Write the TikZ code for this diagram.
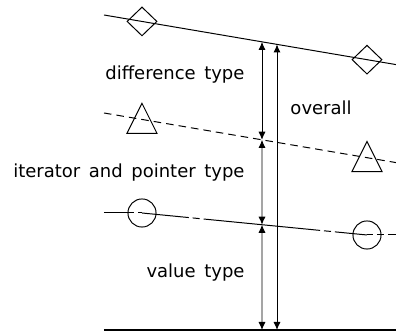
\documentclass[tikz,border=0pt]{standalone}
\usepackage{fontspec}
\setmainfont[WordSpace=1.5]{DejaVu Sans}
\usetikzlibrary{arrows.meta, calc, math}
\usetikzlibrary{shapes.geometric}

\tikzset{
  diamondmark/.style={diamond, draw, inner sep=0pt, minimum width=16.7pt, minimum height=16.1pt},
  trianglemark/.style={isosceles triangle, shape border rotate=90, isosceles triangle stretches,
    draw, inner sep=0pt, minimum width=16.7pt, minimum height=16.7pt, yshift=-2.6pt},
  circlemark/.style={circle, draw, inner sep=0pt, minimum size=15.6pt},
  lbl/.style={inner sep=0pt, font=\normalsize},
  arr/.style={{Latex[length=4.5pt,width=4pt]}-{Latex[length=4.5pt,width=4pt]}},
  dashdotline/.style={dash pattern=on 65pt off 2.2pt on 3.9pt off 2.2pt}
}

\begin{document}
\begin{tikzpicture}[x=0.5556pt, y=-0.5556pt, line width=0.55pt]
\tikzmath{
\xl=104; \xr=396;
\xa=262; \xb=277;
\fa=(\xa-\xl)/(\xr-\xl);
\fb=(\xb-\xl)/(\xr-\xl);
\fm=(142-\xl)/(\xr-\xl);
\fn=(367-\xl)/(\xr-\xl);
}
\useasboundingbox (0,0) rectangle (396,333);

% difference type boundary
\coordinate (l1a) at (\xl,15);
\coordinate (l1b) at (\xr,64.6);
\draw (l1a) -- (l1b);
\node[diamondmark] (d1) at ($(l1a)!\fm!(l1b)$) {};
\node[diamondmark] (d2) at ($(l1a)!\fn!(l1b)$) {};

% iterator and pointer type boundary
\coordinate (l2a) at (\xl,113);
\coordinate (l2b) at (\xr,162.6);
\draw[dash pattern=on 4.2pt off 2.8pt] (l2a) -- (l2b);
\node[trianglemark] (t1) at ($(l2a)!\fm!(l2b)$) {};
\node[trianglemark] (t2) at ($(l2a)!\fn!(l2b)$) {};

% value type boundary
\coordinate (l3a) at (\xl,213);
\node[circlemark] (c1) at (142,213) {};
\node[circlemark] (c2) at (367,235) {};
\coordinate (l3b) at (\xr,235);
\draw[dashdotline, dash phase=48.3pt] (l3a) -- (c1.center);
\draw[dashdotline, dash phase=38.9pt] (c1.center) -- (c2.center);
\draw[dashdotline, dash phase=61.7pt] (c2.center) -- (l3b);

% ground
\coordinate (l4a) at (\xl,330);
\coordinate (l4b) at (\xr,330);
\draw[line width=0.8pt] (l4a) -- (l4b);

% arrows
\coordinate (p1) at ($(l1a)!\fa!(l1b)$);
\coordinate (p2) at ($(l2a)!\fa!(l2b)$);
\coordinate (p3) at ($(c1.center)!{(\xa-142)/225}!(c2.center)$);
\coordinate (p4) at ($(l4a)!\fa!(l4b)$);
\coordinate (q1) at ($(l1a)!\fb!(l1b)$);
\coordinate (q4) at ($(l4a)!\fb!(l4b)$);
\draw[arr] (p1) -- (p2);
\draw[arr] (p2) -- (p3);
\draw[arr] (p3) -- (p4);
\draw[arr] (q1) -- (q4);

% labels
\node[lbl, anchor=base east] (ldiff) at (245,80) {difference type};
\node[lbl, anchor=base east] (liter) at (245,178) {iterator and pointer type};
\node[lbl, anchor=base east] (lval) at (245,278) {value type};
\node[lbl, anchor=base west] (lall) at (290,115) {overall};
\end{tikzpicture}
\end{document}
